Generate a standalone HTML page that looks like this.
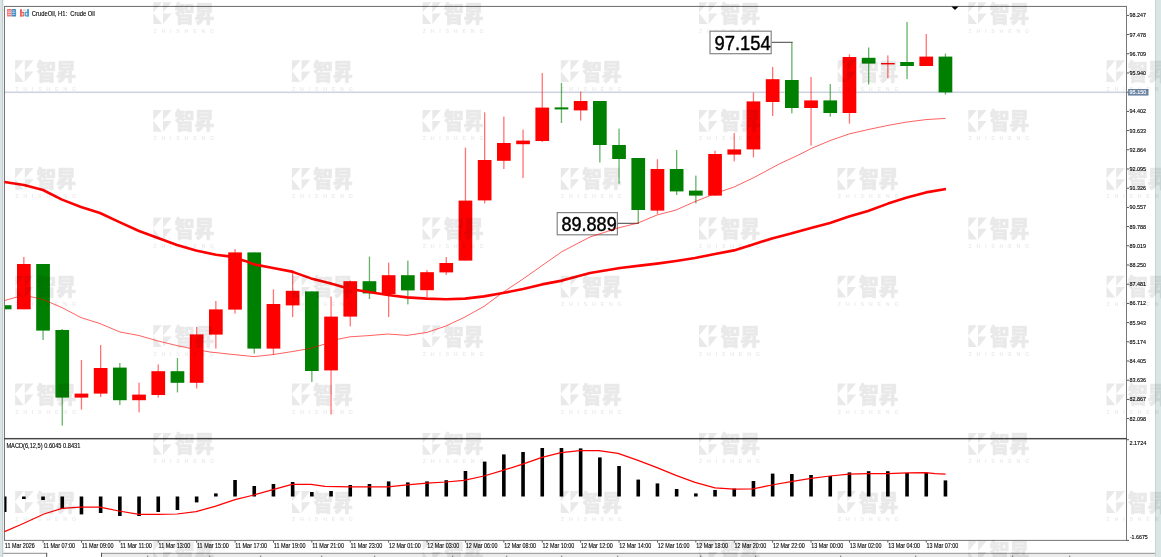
<!DOCTYPE html>
<html lang="zh"><head><meta charset="utf-8"><title>CrudeOil, H1: Crude Oil</title>
<style>
html,body{margin:0;padding:0;background:#fff;}
body{width:1161px;height:557px;overflow:hidden;position:relative;}
svg{position:absolute;left:0;top:0;display:block;}
text{font-family:"Liberation Sans","Noto Sans CJK SC",sans-serif;}
.ax{font-size:5.6px;fill:#000;stroke:#000;stroke-width:0.12px;}
.tm{font-size:6.6px;fill:#000;stroke:#000;stroke-width:0.12px;}
.ti{font-size:6.9px;fill:#000;stroke:#000;stroke-width:0.12px;}
.lb{font-size:19.6px;fill:#000;stroke:#000;stroke-width:0.42px;}
.wmc{font-family:"Noto Sans CJK SC","Noto Sans CJK TC","WenQuanYi Zen Hei",sans-serif;font-weight:900;font-size:19.6px;}
.wme{font-family:"Liberation Sans",sans-serif;font-size:5.4px;font-weight:bold;}
</style></head><body>
<svg width="1161" height="557" viewBox="0 0 1161 557">
<defs>
<filter id="nolcd" x="0" y="0" width="1161" height="557" filterUnits="userSpaceOnUse" color-interpolation-filters="sRGB"><feOffset dx="0" dy="0"/></filter>
<g id="wm">
<polygon points="0,0 8.7,0 0,10.4"/>
<polygon points="9.7,0 18.4,0 9.7,10.4"/>
<polygon points="0,10.8 8.7,21.8 0,21.8"/>
<polygon points="9.7,11.2 18.4,11.2 9.7,21.8"/>
<text class="wmc" transform="translate(21.4,19.45) scale(1,1.14)" x="0" y="0" textLength="39.6" lengthAdjust="spacingAndGlyphs" stroke="#000" stroke-width="0.6" stroke-linejoin="round">智昇</text>
</g>
<g id="wme">
<text class="wme" x="0.1" y="30.4" style="letter-spacing:4.72px">ZHISHENG</text>
</g>
</defs>
<rect x="0" y="0" width="1161" height="557" fill="#fff"/>
<rect x="0" y="0" width="2.6" height="557" fill="#d9e5e5"/>
<rect x="2.2" y="0" width="0.9" height="557" fill="#bcc8c8"/>
<rect x="3" y="0" width="1" height="557" fill="#eff1f1"/>
<rect x="4" y="5" width="1123" height="1" fill="#000" fill-opacity="0.05"/>
<rect x="1155" y="0" width="6" height="557" fill="#dae6e6"/>
<rect x="1155" y="0" width="0.9" height="557" fill="#c6d2d2"/>
<rect x="101.5" y="553.4" width="1053.5" height="3.6" fill="#ececec"/>
<rect x="3.2" y="552.8" width="43.8" height="1" fill="#8c8c8c"/>
<rect x="46.2" y="552.8" width="1" height="4.2" fill="#555"/>
<rect x="101.2" y="552.8" width="1053.8" height="1.1" fill="#9a9a9a"/>
<rect x="101" y="552.8" width="1" height="4.2" fill="#555"/>
<rect x="147" y="555.6" width="1.2" height="1.4" fill="#888"/>
<rect x="209" y="555.6" width="1.2" height="1.4" fill="#888"/>
<rect x="260" y="555.6" width="1.2" height="1.4" fill="#888"/>
<rect x="321" y="555.6" width="1.2" height="1.4" fill="#888"/>
<rect x="374" y="555.6" width="1.2" height="1.4" fill="#888"/>
<rect x="452" y="555.6" width="1.2" height="1.4" fill="#888"/>
<rect x="506" y="555.6" width="1.2" height="1.4" fill="#888"/>
<rect x="561" y="555.6" width="1.2" height="1.4" fill="#888"/>
<rect x="617" y="555.6" width="1.2" height="1.4" fill="#888"/>
<rect x="700" y="555.6" width="1.2" height="1.4" fill="#888"/>
<rect x="755" y="555.6" width="1.2" height="1.4" fill="#888"/>
<rect x="840" y="555.6" width="1.2" height="1.4" fill="#888"/>
<rect x="915" y="555.6" width="1.2" height="1.4" fill="#888"/>
<rect x="1012" y="555.6" width="1.2" height="1.4" fill="#888"/>
<rect x="1069" y="555.6" width="1.2" height="1.4" fill="#888"/>
<rect x="4" y="6" width="1123" height="0.95" fill="#707070"/>
<rect x="4.05" y="6" width="0.95" height="534.8" fill="#707070"/>
<rect x="1126.05" y="6" width="0.95" height="534.8" fill="#707070"/>
<rect x="4" y="437.95" width="1123" height="1.45" fill="#464646"/>
<rect x="4" y="539.9" width="1123" height="0.95" fill="#707070"/>
<polygon points="951.4,6.6 958.6,6.6 955,10" fill="#000"/>
<rect x="5" y="91.5" width="1121" height="1.6" fill="#cdd3df"/>
<g>
<rect x="5" y="305.2" width="6.50" height="4.10" fill="#008000"/>
<rect x="23.20" y="257.00" width="1.3" height="52.30" fill="#ff0000" fill-opacity="0.55"/>
<rect x="17.00" y="264.00" width="13.7" height="45.30" fill="#ff0000"/>
<rect x="42.40" y="264.00" width="1.3" height="76.00" fill="#008000" fill-opacity="0.6"/>
<rect x="36.20" y="264.00" width="13.7" height="66.60" fill="#008000"/>
<rect x="61.60" y="329.00" width="1.3" height="96.60" fill="#008000" fill-opacity="0.6"/>
<rect x="55.40" y="330.00" width="13.7" height="67.60" fill="#008000"/>
<rect x="80.80" y="360.00" width="1.3" height="49.60" fill="#ff0000" fill-opacity="0.55"/>
<rect x="74.60" y="393.60" width="13.7" height="4.00" fill="#ff0000"/>
<rect x="100.00" y="345.00" width="1.3" height="52.00" fill="#ff0000" fill-opacity="0.55"/>
<rect x="93.80" y="368.00" width="13.7" height="25.60" fill="#ff0000"/>
<rect x="119.20" y="363.00" width="1.3" height="42.00" fill="#008000" fill-opacity="0.6"/>
<rect x="113.00" y="367.60" width="13.7" height="32.60" fill="#008000"/>
<rect x="138.40" y="382.60" width="1.3" height="29.80" fill="#ff0000" fill-opacity="0.55"/>
<rect x="132.20" y="394.60" width="13.7" height="5.60" fill="#ff0000"/>
<rect x="157.60" y="364.40" width="1.3" height="33.20" fill="#ff0000" fill-opacity="0.55"/>
<rect x="151.40" y="371.20" width="13.7" height="23.80" fill="#ff0000"/>
<rect x="176.80" y="358.00" width="1.3" height="34.40" fill="#008000" fill-opacity="0.6"/>
<rect x="170.60" y="371.20" width="13.7" height="11.60" fill="#008000"/>
<rect x="196.00" y="327.00" width="1.3" height="61.50" fill="#ff0000" fill-opacity="0.55"/>
<rect x="189.80" y="334.40" width="13.7" height="48.40" fill="#ff0000"/>
<rect x="215.20" y="301.00" width="1.3" height="47.60" fill="#ff0000" fill-opacity="0.55"/>
<rect x="209.00" y="309.40" width="13.7" height="25.20" fill="#ff0000"/>
<rect x="234.40" y="249.00" width="1.3" height="64.60" fill="#ff0000" fill-opacity="0.55"/>
<rect x="228.20" y="252.40" width="13.7" height="57.20" fill="#ff0000"/>
<rect x="253.60" y="252.40" width="1.3" height="101.20" fill="#008000" fill-opacity="0.6"/>
<rect x="247.40" y="252.40" width="13.7" height="96.20" fill="#008000"/>
<rect x="272.80" y="289.40" width="1.3" height="65.20" fill="#ff0000" fill-opacity="0.55"/>
<rect x="266.60" y="304.00" width="13.7" height="44.60" fill="#ff0000"/>
<rect x="292.00" y="270.00" width="1.3" height="47.00" fill="#ff0000" fill-opacity="0.55"/>
<rect x="285.80" y="290.80" width="13.7" height="14.60" fill="#ff0000"/>
<rect x="311.20" y="291.40" width="1.3" height="90.60" fill="#008000" fill-opacity="0.6"/>
<rect x="305.00" y="291.40" width="13.7" height="79.60" fill="#008000"/>
<rect x="330.40" y="296.60" width="1.3" height="118.00" fill="#ff0000" fill-opacity="0.55"/>
<rect x="324.20" y="316.60" width="13.7" height="53.80" fill="#ff0000"/>
<rect x="349.60" y="280.60" width="1.3" height="45.80" fill="#ff0000" fill-opacity="0.55"/>
<rect x="343.40" y="281.20" width="13.7" height="35.40" fill="#ff0000"/>
<rect x="368.80" y="256.60" width="1.3" height="42.40" fill="#008000" fill-opacity="0.6"/>
<rect x="362.60" y="281.20" width="13.7" height="12.20" fill="#008000"/>
<rect x="388.00" y="262.60" width="1.3" height="54.40" fill="#ff0000" fill-opacity="0.55"/>
<rect x="381.80" y="275.20" width="13.7" height="18.80" fill="#ff0000"/>
<rect x="407.20" y="260.60" width="1.3" height="43.80" fill="#008000" fill-opacity="0.6"/>
<rect x="401.00" y="275.20" width="13.7" height="15.20" fill="#008000"/>
<rect x="426.40" y="270.00" width="1.3" height="27.40" fill="#ff0000" fill-opacity="0.55"/>
<rect x="420.20" y="272.20" width="13.7" height="18.00" fill="#ff0000"/>
<rect x="445.60" y="257.00" width="1.3" height="18.00" fill="#ff0000" fill-opacity="0.55"/>
<rect x="439.40" y="263.00" width="13.7" height="9.40" fill="#ff0000"/>
<rect x="464.80" y="147.60" width="1.3" height="113.00" fill="#ff0000" fill-opacity="0.55"/>
<rect x="458.60" y="200.60" width="13.7" height="60.00" fill="#ff0000"/>
<rect x="484.00" y="112.40" width="1.3" height="91.00" fill="#ff0000" fill-opacity="0.55"/>
<rect x="477.80" y="160.00" width="13.7" height="40.40" fill="#ff0000"/>
<rect x="503.20" y="116.60" width="1.3" height="52.40" fill="#ff0000" fill-opacity="0.55"/>
<rect x="497.00" y="143.00" width="13.7" height="17.80" fill="#ff0000"/>
<rect x="522.40" y="129.60" width="1.3" height="48.40" fill="#ff0000" fill-opacity="0.55"/>
<rect x="516.20" y="140.60" width="13.7" height="3.60" fill="#ff0000"/>
<rect x="541.60" y="73.00" width="1.3" height="69.00" fill="#ff0000" fill-opacity="0.55"/>
<rect x="535.40" y="107.60" width="13.7" height="33.40" fill="#ff0000"/>
<rect x="560.80" y="83.00" width="1.3" height="40.00" fill="#008000" fill-opacity="0.6"/>
<rect x="554.60" y="107.40" width="13.7" height="2.00" fill="#008000"/>
<rect x="580.00" y="91.60" width="1.3" height="29.00" fill="#ff0000" fill-opacity="0.55"/>
<rect x="573.80" y="101.00" width="13.7" height="9.40" fill="#ff0000"/>
<rect x="599.20" y="101.00" width="1.3" height="61.50" fill="#008000" fill-opacity="0.6"/>
<rect x="593.00" y="101.00" width="13.7" height="44.00" fill="#008000"/>
<rect x="618.40" y="128.60" width="1.3" height="55.00" fill="#008000" fill-opacity="0.6"/>
<rect x="612.20" y="145.00" width="13.7" height="14.00" fill="#008000"/>
<rect x="637.60" y="158.00" width="1.3" height="65.00" fill="#008000" fill-opacity="0.6"/>
<rect x="631.40" y="158.00" width="13.7" height="52.00" fill="#008000"/>
<rect x="656.80" y="159.20" width="1.3" height="54.80" fill="#ff0000" fill-opacity="0.55"/>
<rect x="650.60" y="169.00" width="13.7" height="41.60" fill="#ff0000"/>
<rect x="676.00" y="150.00" width="1.3" height="45.00" fill="#008000" fill-opacity="0.6"/>
<rect x="669.80" y="169.00" width="13.7" height="22.40" fill="#008000"/>
<rect x="695.20" y="175.60" width="1.3" height="27.80" fill="#008000" fill-opacity="0.6"/>
<rect x="689.00" y="190.60" width="13.7" height="5.00" fill="#008000"/>
<rect x="714.40" y="150.60" width="1.3" height="45.40" fill="#ff0000" fill-opacity="0.55"/>
<rect x="708.20" y="154.00" width="13.7" height="41.60" fill="#ff0000"/>
<rect x="733.60" y="133.00" width="1.3" height="28.40" fill="#ff0000" fill-opacity="0.55"/>
<rect x="727.40" y="149.40" width="13.7" height="5.20" fill="#ff0000"/>
<rect x="752.80" y="92.40" width="1.3" height="65.00" fill="#ff0000" fill-opacity="0.55"/>
<rect x="746.60" y="101.40" width="13.7" height="48.00" fill="#ff0000"/>
<rect x="772.00" y="67.00" width="1.3" height="49.00" fill="#ff0000" fill-opacity="0.55"/>
<rect x="765.80" y="79.20" width="13.7" height="22.80" fill="#ff0000"/>
<rect x="791.20" y="42.30" width="1.3" height="71.10" fill="#008000" fill-opacity="0.6"/>
<rect x="785.00" y="80.00" width="13.7" height="28.00" fill="#008000"/>
<rect x="810.40" y="77.00" width="1.3" height="68.60" fill="#ff0000" fill-opacity="0.55"/>
<rect x="804.20" y="100.40" width="13.7" height="7.60" fill="#ff0000"/>
<rect x="829.60" y="84.00" width="1.3" height="32.60" fill="#008000" fill-opacity="0.6"/>
<rect x="823.40" y="100.40" width="13.7" height="12.60" fill="#008000"/>
<rect x="848.80" y="54.40" width="1.3" height="69.20" fill="#ff0000" fill-opacity="0.55"/>
<rect x="842.60" y="57.00" width="13.7" height="56.00" fill="#ff0000"/>
<rect x="868.00" y="47.50" width="1.3" height="37.00" fill="#008000" fill-opacity="0.6"/>
<rect x="861.80" y="57.80" width="13.7" height="5.80" fill="#008000"/>
<rect x="887.20" y="55.40" width="1.3" height="22.90" fill="#ff0000" fill-opacity="0.55"/>
<rect x="881.00" y="63.00" width="13.7" height="1.40" fill="#ff0000"/>
<rect x="906.40" y="22.00" width="1.3" height="57.20" fill="#008000" fill-opacity="0.6"/>
<rect x="900.20" y="62.00" width="13.7" height="4.00" fill="#008000"/>
<rect x="925.60" y="34.00" width="1.3" height="32.00" fill="#ff0000" fill-opacity="0.55"/>
<rect x="919.40" y="56.60" width="13.7" height="9.40" fill="#ff0000"/>
<rect x="944.80" y="53.60" width="1.3" height="41.00" fill="#008000" fill-opacity="0.6"/>
<rect x="938.60" y="56.60" width="13.7" height="35.80" fill="#008000"/>
</g>
<polyline points="4.5,182.0 24.0,185.0 43.0,190.0 62.0,199.6 81.0,207.0 100.0,213.0 120.0,222.4 139.0,231.0 158.0,238.0 177.0,245.0 196.0,250.6 216.0,254.8 229.0,256.4 247.0,261.6 254.0,264.4 273.0,268.0 292.0,271.6 311.0,278.4 330.0,283.3 350.0,289.0 369.0,292.0 388.0,295.0 407.0,297.4 427.0,298.6 446.0,299.2 465.0,298.6 484.0,296.4 503.0,293.0 523.0,289.0 542.0,284.4 562.0,280.6 590.0,273.0 620.0,268.0 642.0,265.4 657.0,263.6 676.0,261.0 695.0,258.0 715.0,254.0 734.0,250.4 753.0,244.4 772.0,238.4 791.0,233.6 811.0,228.0 830.0,223.0 849.0,216.6 868.0,211.0 888.0,203.6 907.0,197.6 926.0,192.4 946.0,189.0" fill="none" stroke="#ff0000" stroke-width="2.6" stroke-linejoin="round" stroke-linecap="butt"/>
<g fill="#000">
<rect x="4.6" y="496.5" width="1.9" height="15.5"/>
<rect x="22.05" y="496.5" width="3.6" height="2.5"/>
<rect x="41.25" y="496.5" width="3.6" height="3.5"/>
<rect x="60.45" y="496.5" width="3.6" height="12.5"/>
<rect x="79.65" y="496.5" width="3.6" height="17.9"/>
<rect x="98.85" y="496.5" width="3.6" height="16.5"/>
<rect x="118.05" y="496.5" width="3.6" height="19.5"/>
<rect x="137.25" y="496.5" width="3.6" height="19.5"/>
<rect x="156.45" y="496.5" width="3.6" height="15.5"/>
<rect x="175.65" y="496.5" width="3.6" height="13.5"/>
<rect x="194.85" y="496.5" width="3.6" height="5.9"/>
<rect x="214.05" y="493.4" width="3.6" height="3.1"/>
<rect x="233.25" y="480.0" width="3.6" height="16.5"/>
<rect x="252.45" y="486.0" width="3.6" height="10.5"/>
<rect x="271.65" y="484.0" width="3.6" height="12.5"/>
<rect x="290.85" y="482.0" width="3.6" height="14.5"/>
<rect x="310.05" y="492.0" width="3.6" height="4.5"/>
<rect x="329.25" y="491.0" width="3.6" height="5.5"/>
<rect x="348.45" y="485.0" width="3.6" height="11.5"/>
<rect x="367.65" y="484.0" width="3.6" height="12.5"/>
<rect x="386.85" y="481.4" width="3.6" height="15.1"/>
<rect x="406.05" y="482.4" width="3.6" height="14.1"/>
<rect x="425.25" y="481.4" width="3.6" height="15.1"/>
<rect x="444.45" y="480.2" width="3.6" height="16.3"/>
<rect x="463.65" y="471.0" width="3.6" height="25.5"/>
<rect x="482.85" y="461.6" width="3.6" height="34.9"/>
<rect x="502.05" y="454.4" width="3.6" height="42.1"/>
<rect x="521.25" y="452.0" width="3.6" height="44.5"/>
<rect x="540.45" y="448.0" width="3.6" height="48.5"/>
<rect x="559.65" y="448.0" width="3.6" height="48.5"/>
<rect x="578.85" y="448.4" width="3.6" height="48.1"/>
<rect x="598.05" y="457.4" width="3.6" height="39.1"/>
<rect x="617.25" y="466.0" width="3.6" height="30.5"/>
<rect x="636.45" y="479.6" width="3.6" height="16.9"/>
<rect x="655.65" y="483.4" width="3.6" height="13.1"/>
<rect x="674.85" y="489.0" width="3.6" height="7.5"/>
<rect x="694.05" y="493.4" width="3.6" height="3.1"/>
<rect x="713.25" y="490.0" width="3.6" height="6.5"/>
<rect x="732.45" y="488.6" width="3.6" height="7.9"/>
<rect x="751.65" y="481.0" width="3.6" height="15.5"/>
<rect x="770.85" y="473.6" width="3.6" height="22.9"/>
<rect x="790.05" y="474.0" width="3.6" height="22.5"/>
<rect x="809.25" y="475.0" width="3.6" height="21.5"/>
<rect x="828.45" y="476.0" width="3.6" height="20.5"/>
<rect x="847.65" y="472.4" width="3.6" height="24.1"/>
<rect x="866.85" y="471.2" width="3.6" height="25.3"/>
<rect x="886.05" y="471.2" width="3.6" height="25.3"/>
<rect x="905.25" y="473.0" width="3.6" height="23.5"/>
<rect x="924.45" y="473.0" width="3.6" height="23.5"/>
<rect x="943.65" y="480.4" width="3.6" height="16.1"/>
</g>
<polyline points="4.5,531.6 20.0,525.0 44.0,514.0 62.0,508.4 80.0,507.2 100.0,507.2 119.0,511.0 139.0,514.4 158.0,514.4 177.0,514.0 196.0,511.6 215.0,506.4 235.0,499.6 254.0,495.0 273.0,489.6 292.0,484.4 311.0,484.4 325.0,486.4 350.0,486.8 369.0,486.8 388.0,486.8 407.0,484.8 427.0,483.2 446.0,482.0 464.0,480.4 484.0,476.0 503.0,470.4 522.0,464.4 542.0,457.4 561.0,452.6 580.0,450.6 599.0,450.6 618.0,453.4 638.0,460.4 657.0,467.6 676.0,475.4 695.0,482.4 715.0,487.8 734.0,489.2 753.0,488.8 772.0,485.0 791.0,481.6 811.0,478.4 830.0,476.0 849.0,474.2 868.0,473.7 888.0,473.7 907.0,472.8 926.0,472.6 935.0,473.6 945.6,474.2" fill="none" stroke="#ff0000" stroke-width="1.25" stroke-linejoin="round"/>
<g filter="url(#nolcd)">
<rect x="1127" y="14.95" width="2" height="0.9" fill="#444"/>
<text class="ax" x="1129.4" y="17.45" textLength="16.6" lengthAdjust="spacingAndGlyphs">98.247</text>
<rect x="1127" y="34.15" width="2" height="0.9" fill="#444"/>
<text class="ax" x="1129.4" y="36.65" textLength="16.6" lengthAdjust="spacingAndGlyphs">97.478</text>
<rect x="1127" y="53.35" width="2" height="0.9" fill="#444"/>
<text class="ax" x="1129.4" y="55.85" textLength="16.6" lengthAdjust="spacingAndGlyphs">96.709</text>
<rect x="1127" y="72.55" width="2" height="0.9" fill="#444"/>
<text class="ax" x="1129.4" y="75.05" textLength="16.6" lengthAdjust="spacingAndGlyphs">95.940</text>
<rect x="1127" y="91.75" width="2" height="0.9" fill="#444"/>
<rect x="1127" y="110.95" width="2" height="0.9" fill="#444"/>
<text class="ax" x="1129.4" y="113.45" textLength="16.6" lengthAdjust="spacingAndGlyphs">94.402</text>
<rect x="1127" y="130.15" width="2" height="0.9" fill="#444"/>
<text class="ax" x="1129.4" y="132.65" textLength="16.6" lengthAdjust="spacingAndGlyphs">93.633</text>
<rect x="1127" y="149.35" width="2" height="0.9" fill="#444"/>
<text class="ax" x="1129.4" y="151.85" textLength="16.6" lengthAdjust="spacingAndGlyphs">92.864</text>
<rect x="1127" y="168.55" width="2" height="0.9" fill="#444"/>
<text class="ax" x="1129.4" y="171.05" textLength="16.6" lengthAdjust="spacingAndGlyphs">92.095</text>
<rect x="1127" y="187.75" width="2" height="0.9" fill="#444"/>
<text class="ax" x="1129.4" y="190.25" textLength="16.6" lengthAdjust="spacingAndGlyphs">91.326</text>
<rect x="1127" y="206.95" width="2" height="0.9" fill="#444"/>
<text class="ax" x="1129.4" y="209.45" textLength="16.6" lengthAdjust="spacingAndGlyphs">90.557</text>
<rect x="1127" y="226.15" width="2" height="0.9" fill="#444"/>
<text class="ax" x="1129.4" y="228.65" textLength="16.6" lengthAdjust="spacingAndGlyphs">89.788</text>
<rect x="1127" y="245.35" width="2" height="0.9" fill="#444"/>
<text class="ax" x="1129.4" y="247.85" textLength="16.6" lengthAdjust="spacingAndGlyphs">89.019</text>
<rect x="1127" y="264.55" width="2" height="0.9" fill="#444"/>
<text class="ax" x="1129.4" y="267.05" textLength="16.6" lengthAdjust="spacingAndGlyphs">88.250</text>
<rect x="1127" y="283.75" width="2" height="0.9" fill="#444"/>
<text class="ax" x="1129.4" y="286.25" textLength="16.6" lengthAdjust="spacingAndGlyphs">87.481</text>
<rect x="1127" y="302.95" width="2" height="0.9" fill="#444"/>
<text class="ax" x="1129.4" y="305.45" textLength="16.6" lengthAdjust="spacingAndGlyphs">86.712</text>
<rect x="1127" y="322.15" width="2" height="0.9" fill="#444"/>
<text class="ax" x="1129.4" y="324.65" textLength="16.6" lengthAdjust="spacingAndGlyphs">85.943</text>
<rect x="1127" y="341.35" width="2" height="0.9" fill="#444"/>
<text class="ax" x="1129.4" y="343.85" textLength="16.6" lengthAdjust="spacingAndGlyphs">85.174</text>
<rect x="1127" y="360.55" width="2" height="0.9" fill="#444"/>
<text class="ax" x="1129.4" y="363.05" textLength="16.6" lengthAdjust="spacingAndGlyphs">84.405</text>
<rect x="1127" y="379.75" width="2" height="0.9" fill="#444"/>
<text class="ax" x="1129.4" y="382.25" textLength="16.6" lengthAdjust="spacingAndGlyphs">83.636</text>
<rect x="1127" y="398.95" width="2" height="0.9" fill="#444"/>
<text class="ax" x="1129.4" y="401.45" textLength="16.6" lengthAdjust="spacingAndGlyphs">82.867</text>
<rect x="1127" y="418.15" width="2" height="0.9" fill="#444"/>
<text class="ax" x="1129.4" y="420.65" textLength="16.6" lengthAdjust="spacingAndGlyphs">82.098</text>
<rect x="1128.1" y="89" width="20.4" height="6.6" fill="#6b84a3"/>
<text class="ax" x="1129.6" y="94.4" textLength="16.6" lengthAdjust="spacingAndGlyphs" style="fill:#fff;stroke:#fff">95.150</text>
<rect x="1127" y="439.3" width="2" height="0.9" fill="#444"/>
<text class="ax" x="1129.4" y="444.7" textLength="17" lengthAdjust="spacingAndGlyphs">2.1724</text>
<rect x="1127" y="539.9" width="2" height="0.9" fill="#444"/>
<text class="ax" x="1129.8" y="538.9" textLength="18" lengthAdjust="spacingAndGlyphs">-1.6675</text>
</g>
<g filter="url(#nolcd)">
<text class="tm" x="4.80" y="548.1" textLength="29.9" lengthAdjust="spacingAndGlyphs">11 Mar 2026</text>
<rect x="42.60" y="540.8" width="0.9" height="1.8" fill="#444"/>
<text class="tm" x="43.35" y="548.1" textLength="31.8" lengthAdjust="spacingAndGlyphs">11 Mar 07:00</text>
<rect x="81.00" y="540.8" width="0.9" height="1.8" fill="#444"/>
<text class="tm" x="81.75" y="548.1" textLength="31.8" lengthAdjust="spacingAndGlyphs">11 Mar 09:00</text>
<rect x="119.40" y="540.8" width="0.9" height="1.8" fill="#444"/>
<text class="tm" x="120.15" y="548.1" textLength="31.8" lengthAdjust="spacingAndGlyphs">11 Mar 11:00</text>
<rect x="157.80" y="540.8" width="0.9" height="1.8" fill="#444"/>
<text class="tm" x="158.55" y="548.1" textLength="31.8" lengthAdjust="spacingAndGlyphs">11 Mar 13:00</text>
<rect x="196.20" y="540.8" width="0.9" height="1.8" fill="#444"/>
<text class="tm" x="196.95" y="548.1" textLength="31.8" lengthAdjust="spacingAndGlyphs">11 Mar 15:00</text>
<rect x="234.60" y="540.8" width="0.9" height="1.8" fill="#444"/>
<text class="tm" x="235.35" y="548.1" textLength="31.8" lengthAdjust="spacingAndGlyphs">11 Mar 17:00</text>
<rect x="273.00" y="540.8" width="0.9" height="1.8" fill="#444"/>
<text class="tm" x="273.75" y="548.1" textLength="31.8" lengthAdjust="spacingAndGlyphs">11 Mar 19:00</text>
<rect x="311.40" y="540.8" width="0.9" height="1.8" fill="#444"/>
<text class="tm" x="312.15" y="548.1" textLength="31.8" lengthAdjust="spacingAndGlyphs">11 Mar 21:00</text>
<rect x="349.80" y="540.8" width="0.9" height="1.8" fill="#444"/>
<text class="tm" x="350.55" y="548.1" textLength="31.8" lengthAdjust="spacingAndGlyphs">11 Mar 23:00</text>
<rect x="388.20" y="540.8" width="0.9" height="1.8" fill="#444"/>
<text class="tm" x="388.95" y="548.1" textLength="31.8" lengthAdjust="spacingAndGlyphs">12 Mar 01:00</text>
<rect x="426.60" y="540.8" width="0.9" height="1.8" fill="#444"/>
<text class="tm" x="427.35" y="548.1" textLength="31.8" lengthAdjust="spacingAndGlyphs">12 Mar 03:00</text>
<rect x="465.00" y="540.8" width="0.9" height="1.8" fill="#444"/>
<text class="tm" x="465.75" y="548.1" textLength="31.8" lengthAdjust="spacingAndGlyphs">12 Mar 06:00</text>
<rect x="503.40" y="540.8" width="0.9" height="1.8" fill="#444"/>
<text class="tm" x="504.15" y="548.1" textLength="31.8" lengthAdjust="spacingAndGlyphs">12 Mar 08:00</text>
<rect x="541.80" y="540.8" width="0.9" height="1.8" fill="#444"/>
<text class="tm" x="542.55" y="548.1" textLength="31.8" lengthAdjust="spacingAndGlyphs">12 Mar 10:00</text>
<rect x="580.20" y="540.8" width="0.9" height="1.8" fill="#444"/>
<text class="tm" x="580.95" y="548.1" textLength="31.8" lengthAdjust="spacingAndGlyphs">12 Mar 12:00</text>
<rect x="618.60" y="540.8" width="0.9" height="1.8" fill="#444"/>
<text class="tm" x="619.35" y="548.1" textLength="31.8" lengthAdjust="spacingAndGlyphs">12 Mar 14:00</text>
<rect x="657.00" y="540.8" width="0.9" height="1.8" fill="#444"/>
<text class="tm" x="657.75" y="548.1" textLength="31.8" lengthAdjust="spacingAndGlyphs">12 Mar 16:00</text>
<rect x="695.40" y="540.8" width="0.9" height="1.8" fill="#444"/>
<text class="tm" x="696.15" y="548.1" textLength="31.8" lengthAdjust="spacingAndGlyphs">12 Mar 18:00</text>
<rect x="733.80" y="540.8" width="0.9" height="1.8" fill="#444"/>
<text class="tm" x="734.55" y="548.1" textLength="31.8" lengthAdjust="spacingAndGlyphs">12 Mar 20:00</text>
<rect x="772.20" y="540.8" width="0.9" height="1.8" fill="#444"/>
<text class="tm" x="772.95" y="548.1" textLength="31.8" lengthAdjust="spacingAndGlyphs">12 Mar 22:00</text>
<rect x="810.60" y="540.8" width="0.9" height="1.8" fill="#444"/>
<text class="tm" x="811.35" y="548.1" textLength="31.8" lengthAdjust="spacingAndGlyphs">13 Mar 00:00</text>
<rect x="849.00" y="540.8" width="0.9" height="1.8" fill="#444"/>
<text class="tm" x="849.75" y="548.1" textLength="31.8" lengthAdjust="spacingAndGlyphs">13 Mar 02:00</text>
<rect x="887.40" y="540.8" width="0.9" height="1.8" fill="#444"/>
<text class="tm" x="888.15" y="548.1" textLength="31.8" lengthAdjust="spacingAndGlyphs">13 Mar 04:00</text>
<rect x="925.80" y="540.8" width="0.9" height="1.8" fill="#444"/>
<text class="tm" x="926.55" y="548.1" textLength="31.8" lengthAdjust="spacingAndGlyphs">13 Mar 07:00</text>
</g>
<g filter="url(#nolcd)">
<rect x="7" y="9" width="4.5" height="7.6" rx="0.9" fill="#f07c7c"/>
<rect x="11.6" y="9" width="4.5" height="7.6" rx="0.9" fill="#3f88c4"/>
<rect x="7" y="9" width="4.5" height="1.5" rx="0.7" fill="#ee6a6a"/>
<rect x="7.7" y="10.6" width="3.5" height="0.65" fill="#fff" fill-opacity="0.8"/>
<rect x="12" y="10.6" width="3.5" height="0.65" fill="#fff" fill-opacity="0.7"/>
<rect x="7.7" y="12.3" width="3.5" height="0.65" fill="#fff" fill-opacity="0.8"/>
<rect x="12" y="12.3" width="3.5" height="0.65" fill="#fff" fill-opacity="0.7"/>
<rect x="7.7" y="14.0" width="3.5" height="0.65" fill="#fff" fill-opacity="0.8"/>
<rect x="12" y="14.0" width="3.5" height="0.65" fill="#fff" fill-opacity="0.7"/>
<rect x="13.5" y="10.4" width="0.55" height="4.6" fill="#fff" fill-opacity="0.45"/>
<rect x="20" y="9" width="1.9" height="7.6" rx="0.7" fill="#e8625c"/>
<rect x="20" y="11.7" width="4.3" height="4.9" rx="1.1" fill="#e8625c"/>
<rect x="21.7" y="13" width="1.5" height="2.3" rx="0.5" fill="#ffe0d2"/>
<rect x="27.1" y="9" width="1.9" height="7.6" rx="0.7" fill="#4a9bd8"/>
<rect x="24.7" y="11.7" width="4.3" height="4.9" rx="1.1" fill="#4a9bd8"/>
<rect x="25.8" y="13" width="1.5" height="2.3" rx="0.5" fill="#d2f0ff"/>
<rect x="22.7" y="9.2" width="3.6" height="2.1" rx="0.5" fill="#d3dbe2" fill-opacity="0.85"/>
<text class="ti" x="31.8" y="15.5" textLength="63.1" lengthAdjust="spacingAndGlyphs" xml:space="preserve">CrudeOil, H1:  Crude Oil</text>
<text class="ax" style="font-size:6.4px" x="6.4" y="447.5" textLength="74" lengthAdjust="spacingAndGlyphs">MACD(6,12,5) 0.6045 0.8431</text>
</g>
<g opacity="0.09" fill="#000">
<use href="#wm" x="153.3" y="2.2"/>
<use href="#wm" x="422.6" y="2.2"/>
<use href="#wm" x="699.0" y="2.2"/>
<use href="#wm" x="968.3" y="2.2"/>
<use href="#wm" x="15.1" y="60.3"/>
<use href="#wm" x="291.9" y="60.3"/>
<use href="#wm" x="560.8" y="60.3"/>
<use href="#wm" x="837.6" y="60.3"/>
<use href="#wm" x="1106.5" y="60.3"/>
<use href="#wm" x="153.3" y="109.9"/>
<use href="#wm" x="422.6" y="109.9"/>
<use href="#wm" x="699.0" y="109.9"/>
<use href="#wm" x="968.3" y="109.9"/>
<use href="#wm" x="15.1" y="168.0"/>
<use href="#wm" x="291.9" y="168.0"/>
<use href="#wm" x="560.8" y="168.0"/>
<use href="#wm" x="837.6" y="168.0"/>
<use href="#wm" x="1106.5" y="168.0"/>
<use href="#wm" x="153.3" y="217.6"/>
<use href="#wm" x="422.6" y="217.6"/>
<use href="#wm" x="699.0" y="217.6"/>
<use href="#wm" x="968.3" y="217.6"/>
<use href="#wm" x="15.1" y="275.7"/>
<use href="#wm" x="291.9" y="275.7"/>
<use href="#wm" x="560.8" y="275.7"/>
<use href="#wm" x="837.6" y="275.7"/>
<use href="#wm" x="1106.5" y="275.7"/>
<use href="#wm" x="153.3" y="325.3"/>
<use href="#wm" x="422.6" y="325.3"/>
<use href="#wm" x="699.0" y="325.3"/>
<use href="#wm" x="968.3" y="325.3"/>
<use href="#wm" x="15.1" y="383.4"/>
<use href="#wm" x="291.9" y="383.4"/>
<use href="#wm" x="560.8" y="383.4"/>
<use href="#wm" x="837.6" y="383.4"/>
<use href="#wm" x="1106.5" y="383.4"/>
<use href="#wm" x="153.3" y="433.0"/>
<use href="#wm" x="422.6" y="433.0"/>
<use href="#wm" x="699.0" y="433.0"/>
<use href="#wm" x="968.3" y="433.0"/>
<use href="#wm" x="15.1" y="491.1"/>
<use href="#wm" x="291.9" y="491.1"/>
<use href="#wm" x="560.8" y="491.1"/>
<use href="#wm" x="837.6" y="491.1"/>
<use href="#wm" x="1106.5" y="491.1"/>
<use href="#wm" x="153.3" y="540.7"/>
<use href="#wm" x="422.6" y="540.7"/>
<use href="#wm" x="699.0" y="540.7"/>
<use href="#wm" x="968.3" y="540.7"/>
</g>
<g opacity="0.088" fill="#000">
<use href="#wme" x="153.3" y="2.2"/>
<use href="#wme" x="422.6" y="2.2"/>
<use href="#wme" x="699.0" y="2.2"/>
<use href="#wme" x="968.3" y="2.2"/>
<use href="#wme" x="15.1" y="60.3"/>
<use href="#wme" x="291.9" y="60.3"/>
<use href="#wme" x="560.8" y="60.3"/>
<use href="#wme" x="837.6" y="60.3"/>
<use href="#wme" x="1106.5" y="60.3"/>
<use href="#wme" x="153.3" y="109.9"/>
<use href="#wme" x="422.6" y="109.9"/>
<use href="#wme" x="699.0" y="109.9"/>
<use href="#wme" x="968.3" y="109.9"/>
<use href="#wme" x="15.1" y="168.0"/>
<use href="#wme" x="291.9" y="168.0"/>
<use href="#wme" x="560.8" y="168.0"/>
<use href="#wme" x="837.6" y="168.0"/>
<use href="#wme" x="1106.5" y="168.0"/>
<use href="#wme" x="153.3" y="217.6"/>
<use href="#wme" x="422.6" y="217.6"/>
<use href="#wme" x="699.0" y="217.6"/>
<use href="#wme" x="968.3" y="217.6"/>
<use href="#wme" x="15.1" y="275.7"/>
<use href="#wme" x="291.9" y="275.7"/>
<use href="#wme" x="560.8" y="275.7"/>
<use href="#wme" x="837.6" y="275.7"/>
<use href="#wme" x="1106.5" y="275.7"/>
<use href="#wme" x="153.3" y="325.3"/>
<use href="#wme" x="422.6" y="325.3"/>
<use href="#wme" x="699.0" y="325.3"/>
<use href="#wme" x="968.3" y="325.3"/>
<use href="#wme" x="15.1" y="383.4"/>
<use href="#wme" x="291.9" y="383.4"/>
<use href="#wme" x="560.8" y="383.4"/>
<use href="#wme" x="837.6" y="383.4"/>
<use href="#wme" x="1106.5" y="383.4"/>
<use href="#wme" x="153.3" y="433.0"/>
<use href="#wme" x="422.6" y="433.0"/>
<use href="#wme" x="699.0" y="433.0"/>
<use href="#wme" x="968.3" y="433.0"/>
<use href="#wme" x="15.1" y="491.1"/>
<use href="#wme" x="291.9" y="491.1"/>
<use href="#wme" x="560.8" y="491.1"/>
<use href="#wme" x="837.6" y="491.1"/>
<use href="#wme" x="1106.5" y="491.1"/>
<use href="#wme" x="153.3" y="540.7"/>
<use href="#wme" x="422.6" y="540.7"/>
<use href="#wme" x="699.0" y="540.7"/>
<use href="#wme" x="968.3" y="540.7"/>
</g>
<g filter="url(#nolcd)">
<rect x="771.8" y="41.8" width="20.8" height="1" fill="#444"/>
<rect x="710" y="31.2" width="61.2" height="22.5" fill="#fff" stroke="#868686" stroke-width="1.2"/>
<text class="lb" x="714.5" y="49.9" textLength="56.3" lengthAdjust="spacingAndGlyphs">97.154</text>
<rect x="618" y="222.8" width="20.8" height="1" fill="#444"/>
<rect x="557.2" y="212.6" width="60.2" height="22.2" fill="#fff" stroke="#868686" stroke-width="1.2"/>
<text class="lb" x="561.4" y="230.9" textLength="55.3" lengthAdjust="spacingAndGlyphs">89.889</text>
</g>
<polyline points="4.5,300.5 17.0,297.0 30.0,296.5 43.0,299.5 62.0,307.6 81.0,317.6 100.0,323.6 120.0,332.0 139.0,335.5 158.0,341.0 177.0,345.6 196.0,349.6 210.0,352.0 232.0,354.4 254.0,356.6 273.0,354.6 292.0,351.6 310.0,348.6 325.0,344.0 338.0,339.2 350.0,336.8 369.0,335.6 388.0,334.0 407.0,335.4 427.0,332.4 446.0,326.0 465.0,317.0 484.0,306.4 503.0,292.3 523.0,279.0 542.0,265.6 562.0,251.6 590.0,237.0 618.0,228.0 638.0,223.0 657.0,215.0 676.0,210.0 695.0,201.6 715.0,193.6 734.0,187.0 753.0,178.0 768.0,170.0 780.0,163.6 800.0,154.3 811.0,148.6 830.0,140.6 849.0,134.0 868.0,129.6 888.0,125.4 907.0,122.0 926.0,119.6 945.6,118.4" fill="none" stroke="#ff0000" stroke-opacity="0.66" stroke-width="0.95" stroke-linejoin="round"/>
</svg>
</body></html>
